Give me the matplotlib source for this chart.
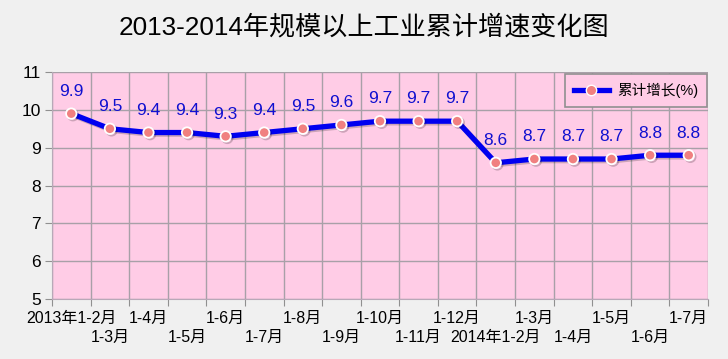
import matplotlib
matplotlib.use("Agg")
import matplotlib.pyplot as plt
import matplotlib.patheffects as pe
from matplotlib.lines import Line2D

plt.rcParams['font.family'] = ['Liberation Sans', 'Noto Sans CJK SC', 'DejaVu Sans']

categories = ["2013年1-2月", "1-3月", "1-4月", "1-5月", "1-6月", "1-7月", "1-8月", "1-9月",
              "1-10月", "1-11月", "1-12月", "2014年1-2月", "1-3月", "1-4月", "1-5月", "1-6月", "1-7月"]
values = [9.9, 9.5, 9.4, 9.4, 9.3, 9.4, 9.5, 9.6, 9.7, 9.7, 9.7, 8.6, 8.7, 8.7, 8.7, 8.8, 8.8]
series_name = "累计增长(%)"
title = "2013-2014年规模以上工业累计增速变化图"
yticks = [5, 6, 7, 8, 9, 10, 11]

fig = plt.figure(figsize=(7.28, 3.59), dpi=100, facecolor='#F0F0F0')
ax = fig.add_axes([52/728, 1-299/359, 656/728, 227/359])
ax.set_facecolor('#FFCCE6')

x = list(range(len(values)))
line, = ax.plot(x, values, color='#0000F0', lw=3.8, marker='o', markersize=7.5,
                markerfacecolor='#F08080', markeredgecolor='white', markeredgewidth=1.3,
                zorder=5, solid_capstyle='round', solid_joinstyle='round',
                path_effects=[pe.SimpleLineShadow(offset=(1.2, -1.2), alpha=0.2), pe.Normal()])

for xi, v in zip(x, values):
    ax.annotate(f"{v}", (xi, v), xytext=(0, 16), textcoords='offset points',
                ha='center', va='center', color='#1010D0', fontsize=12.5)

ax.set_xlim(-0.5, len(values)-0.5)
ax.set_ylim(5, 11)
ax.set_yticks(yticks)
ax.set_yticklabels([str(t) for t in yticks], fontsize=12.5)

ax.set_xticks([i - 0.5 for i in range(len(values)+1)])
ax.set_xticklabels([])
trans = ax.get_xaxis_transform()
for i, c in enumerate(categories):
    dy = -19/227 if i % 2 == 0 else -38/227
    ax.text(i, dy, c, transform=trans, ha='center', va='center', fontsize=11.5)
ax.tick_params(axis='x', which='major', length=5, color='#909090')
ax.tick_params(axis='y', length=5, color='#909090', pad=3)

ax.grid(True, which='major', color='#A8A0A8', lw=1)
ax.set_axisbelow(True)
for s in ['top', 'right']:
    ax.spines[s].set_visible(False)
for s in ['left', 'bottom']:
    ax.spines[s].set_color('#B8A8B8')

handle = Line2D([], [], color='#0000F0', lw=3.8, marker='o', markersize=7.5,
                markerfacecolor='#F08080', markeredgecolor='white', markeredgewidth=1.0)
leg = ax.legend([handle], [series_name], loc='upper right', bbox_to_anchor=(0.999, 0.992),
                borderaxespad=0, fontsize=10.5, frameon=True, fancybox=False, facecolor='#FFCCE6',
                edgecolor='#909090', handlelength=2.4, handletextpad=0.6, borderpad=0.6,
                framealpha=1)
leg.get_frame().set_linewidth(1.2)

fig.text(0.5, 1-27/359, title, ha='center', va='center', fontsize=18.8)

fig.savefig("out.png", dpi=100, facecolor=fig.get_facecolor())
